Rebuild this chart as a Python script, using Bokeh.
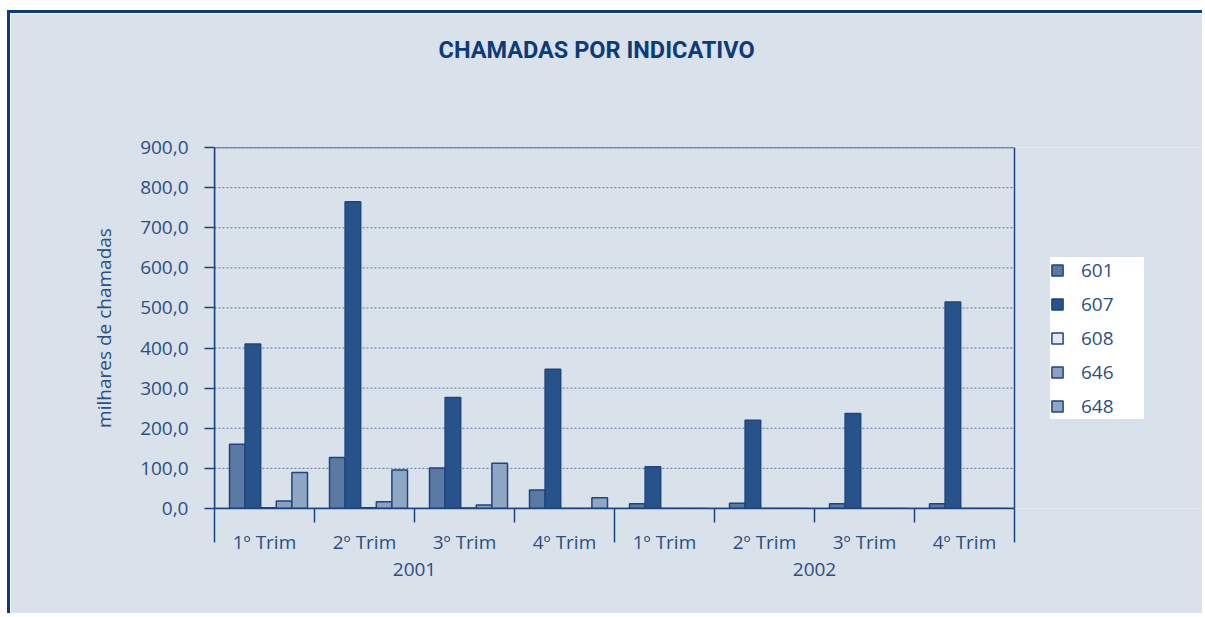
from bokeh.plotting import figure
from bokeh.models import (Range1d, FixedTicker, LinearAxis, Legend, LegendItem, Title, BoxAnnotation)
from bokeh.embed import file_html
from bokeh.resources import INLINE

# ---- data ----
quarters = ["1º Trim", "2º Trim", "3º Trim", "4º Trim", "1º Trim", "2º Trim", "3º Trim", "4º Trim"]
years = ["2001", "2002"]
series_names = ["601", "607", "608", "646", "648"]
s601 = [160, 127, 101, 46, 12, 13, 12, 12]
s607 = [410, 765, 277, 347, 104, 220, 237, 515]
s608 = [2, 2, 1, 0, 0, 0, 0, 0]
s646 = [19, 17, 9, 0, 0, 0, 0, 0]
s648 = [90, 96, 113, 27, 0, 0, 0, 0]
y_ticks = [0, 100, 200, 300, 400, 500, 600, 700, 800, 900]
y_tick_labels = ["0,0", "100,0", "200,0", "300,0", "400,0", "500,0", "600,0", "700,0", "800,0", "900,0"]

series = [s601, s607, s608, s646, s648]
colors = ["#5a7aa3", "#27528a", "#e3e9f0", "#8aa2c0", "#8ea7c5"]

BG = "#d9e1ea"
NAVY = "#1d4680"
TEXT = "#2c4f84"
FONT = "Open Sans"

# layout constants
W, H = 1195, 603
MB_LEFT, MB_TOP, MB_BOTTOM = 204, 134, 108
FRAME_W = W - MB_LEFT
N = len(quarters)
Y_MAX = y_ticks[-1]
x_end = N * FRAME_W / 800.0   # 100 px per quarter

p = figure(width=W, height=H, output_backend="svg", toolbar_location=None,
           x_range=Range1d(0, x_end), y_range=Range1d(0, Y_MAX),
           min_border_left=MB_LEFT, min_border_top=MB_TOP, min_border_right=0,
           min_border_bottom=MB_BOTTOM)
p.styles = {"border-left": "3px solid #0b3b7c", "border-top": "3px solid #0b3b7c",
            "margin-left": "7px", "margin-top": "10px"}
p.background_fill_color = BG
p.border_fill_color = BG
p.outline_line_color = None

# spacer between plot area and title, then the title itself
p.add_layout(Title(text=" ", standoff=54, text_font_size="25px"), "above")
p.add_layout(Title(text="CHAMADAS POR INDICATIVO", align="left", offset=224, standoff=0,
                   text_font="Roboto", text_font_style="bold",
                   text_font_size="23.5px", text_color="#0d3b78"), "above")

# grid lines (dotted), limited to the plot area
p.xgrid.visible = False
p.ygrid.visible = False
p.segment(x0=[0] * len(y_ticks), x1=[N] * len(y_ticks), y0=y_ticks, y1=y_ticks,
          line_color="#56759f", line_dash="2 2", line_width=1)

# plot-area border
p.add_layout(BoxAnnotation(left=0, right=N, bottom=0, top=Y_MAX, fill_alpha=0,
                           line_color=NAVY, line_alpha=1.0, line_width=1.5))

# bars
bar_w = 0.156
offsets = [0.228, 0.384, 0.54, 0.696, 0.852]
items = []
for name, vals, col, off in zip(series_names, series, colors, offsets):
    xs = [i + off for i in range(len(vals))]
    r = p.vbar(x=xs, top=vals, bottom=0, width=bar_w, fill_color=col,
               line_color=NAVY, line_width=1.5)
    items.append(LegendItem(label=name, renderers=[r]))

# y axis
yax = p.yaxis[0]
yax.ticker = FixedTicker(ticks=y_ticks, minor_ticks=[])
yax.major_label_overrides = {t: l for t, l in zip(y_ticks, y_tick_labels)}
yax.major_tick_out = 10
yax.major_tick_in = 0
yax.major_tick_line_color = NAVY
yax.major_tick_line_width = 1.5
yax.axis_line_color = NAVY
yax.axis_line_width = 1.5
yax.major_label_standoff = 16
yax.major_label_text_font = FONT
yax.major_label_text_font_size = "19px"
yax.major_label_text_color = TEXT
yax.axis_label = "milhares de chamadas"
yax.axis_label_standoff = 20
yax.axis_label_text_font = FONT
yax.axis_label_text_font_size = "19px"
yax.axis_label_text_font_style = "normal"
yax.axis_label_text_color = TEXT

# x axis: quarters
xa = p.xaxis[0]
centers = [i + 0.5 for i in range(N)]
xa.bounds = (0, N)
xa.ticker = FixedTicker(ticks=centers, minor_ticks=[1, 2, 3, 5, 6, 7])
xa.major_label_overrides = {c: q for c, q in zip(centers, quarters)}
xa.major_tick_out = 0
xa.major_tick_in = 0
xa.major_tick_line_color = None
xa.minor_tick_out = 14
xa.minor_tick_in = 0
xa.minor_tick_line_color = NAVY
xa.minor_tick_line_width = 1.5
xa.axis_line_color = NAVY
xa.axis_line_width = 1.5
xa.major_label_standoff = 6
xa.major_label_text_font = FONT
xa.major_label_text_font_size = "19px"
xa.major_label_text_color = TEXT

# x axis: years
year_pos = [2, 6]
xb = LinearAxis(ticker=FixedTicker(ticks=year_pos, minor_ticks=[0, 4, 8]))
xb.bounds = (0, N)
xb.major_label_overrides = {c: y for c, y in zip(year_pos, years)}
xb.axis_line_color = None
xb.major_tick_line_color = None
xb.major_tick_out = 0
xb.major_tick_in = 0
xb.minor_tick_in = 49
xb.minor_tick_out = -15
xb.minor_tick_line_color = NAVY
xb.minor_tick_line_width = 1.5
xb.major_label_standoff = 5
xb.major_label_text_font = FONT
xb.major_label_text_font_size = "19px"
xb.major_label_text_color = TEXT
p.add_layout(xb, "below")

# legend
legend = Legend(items=items, location=(836, 89), orientation="vertical",
                padding=8, spacing=8, margin=0,
                glyph_width=14, glyph_height=14, label_height=14,
                label_standoff=17, label_width=63,
                border_line_color=None, background_fill_color="white",
                background_fill_alpha=1.0,
                label_text_font=FONT, label_text_font_size="19px",
                label_text_color=TEXT)
p.add_layout(legend, "center")

open("out.html", "w").write(file_html(p, INLINE))
